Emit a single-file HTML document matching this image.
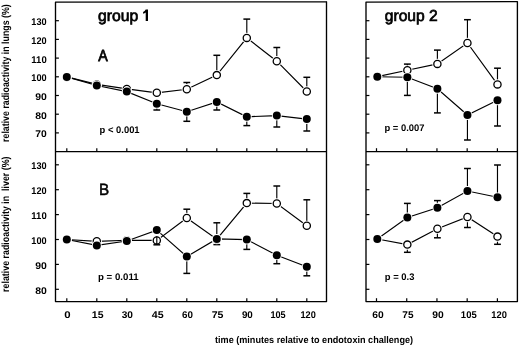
<!DOCTYPE html>
<html><head><meta charset="utf-8"><style>
html,body{margin:0;padding:0;background:#fff;}
svg{display:block;will-change:transform;}
text{font-family:"Liberation Sans",sans-serif;fill:#000;white-space:pre;text-rendering:geometricPrecision;}
</style></head><body>
<svg width="520" height="347" viewBox="0 0 520 347">
<rect width="520" height="347" fill="#fff"/>
<g stroke="#000" fill="none">
<path d="M55.5,2.15 L326.5,1.8 L326.5,301.6 L55.5,301.6 Z" fill="none" stroke-width="1.35" stroke-linejoin="round"/>
<line x1="55.50" y1="151.60" x2="326.50" y2="151.60" stroke-width="1.35"/>
<path d="M366.0,2.05 L517.4,1.6 L517.4,301.6 L366.0,301.6 Z" fill="none" stroke-width="1.35" stroke-linejoin="round"/>
<line x1="366.00" y1="151.60" x2="517.40" y2="151.60" stroke-width="1.35"/>
<line x1="55.50" y1="20.70" x2="58.90" y2="20.70" stroke-width="1.2"/>
<line x1="55.50" y1="39.40" x2="58.90" y2="39.40" stroke-width="1.2"/>
<line x1="55.50" y1="58.10" x2="58.90" y2="58.10" stroke-width="1.2"/>
<line x1="55.50" y1="76.80" x2="58.90" y2="76.80" stroke-width="1.2"/>
<line x1="55.50" y1="95.50" x2="58.90" y2="95.50" stroke-width="1.2"/>
<line x1="55.50" y1="114.20" x2="58.90" y2="114.20" stroke-width="1.2"/>
<line x1="55.50" y1="132.90" x2="58.90" y2="132.90" stroke-width="1.2"/>
<line x1="55.50" y1="164.80" x2="58.90" y2="164.80" stroke-width="1.2"/>
<line x1="55.50" y1="189.70" x2="58.90" y2="189.70" stroke-width="1.2"/>
<line x1="55.50" y1="214.60" x2="58.90" y2="214.60" stroke-width="1.2"/>
<line x1="55.50" y1="239.50" x2="58.90" y2="239.50" stroke-width="1.2"/>
<line x1="55.50" y1="264.40" x2="58.90" y2="264.40" stroke-width="1.2"/>
<line x1="55.50" y1="289.30" x2="58.90" y2="289.30" stroke-width="1.2"/>
<line x1="366.00" y1="20.70" x2="369.40" y2="20.70" stroke-width="1.2"/>
<line x1="366.00" y1="39.40" x2="369.40" y2="39.40" stroke-width="1.2"/>
<line x1="366.00" y1="58.10" x2="369.40" y2="58.10" stroke-width="1.2"/>
<line x1="366.00" y1="76.80" x2="369.40" y2="76.80" stroke-width="1.2"/>
<line x1="366.00" y1="95.50" x2="369.40" y2="95.50" stroke-width="1.2"/>
<line x1="366.00" y1="114.20" x2="369.40" y2="114.20" stroke-width="1.2"/>
<line x1="366.00" y1="132.90" x2="369.40" y2="132.90" stroke-width="1.2"/>
<line x1="366.00" y1="164.80" x2="369.40" y2="164.80" stroke-width="1.2"/>
<line x1="366.00" y1="189.70" x2="369.40" y2="189.70" stroke-width="1.2"/>
<line x1="366.00" y1="214.60" x2="369.40" y2="214.60" stroke-width="1.2"/>
<line x1="366.00" y1="239.50" x2="369.40" y2="239.50" stroke-width="1.2"/>
<line x1="366.00" y1="264.40" x2="369.40" y2="264.40" stroke-width="1.2"/>
<line x1="366.00" y1="289.30" x2="369.40" y2="289.30" stroke-width="1.2"/>
<line x1="66.80" y1="151.60" x2="66.80" y2="148.20" stroke-width="1.2"/>
<line x1="66.80" y1="301.60" x2="66.80" y2="298.20" stroke-width="1.2"/>
<line x1="96.80" y1="151.60" x2="96.80" y2="148.20" stroke-width="1.2"/>
<line x1="96.80" y1="301.60" x2="96.80" y2="298.20" stroke-width="1.2"/>
<line x1="126.80" y1="151.60" x2="126.80" y2="148.20" stroke-width="1.2"/>
<line x1="126.80" y1="301.60" x2="126.80" y2="298.20" stroke-width="1.2"/>
<line x1="156.80" y1="151.60" x2="156.80" y2="148.20" stroke-width="1.2"/>
<line x1="156.80" y1="301.60" x2="156.80" y2="298.20" stroke-width="1.2"/>
<line x1="186.80" y1="151.60" x2="186.80" y2="148.20" stroke-width="1.2"/>
<line x1="186.80" y1="301.60" x2="186.80" y2="298.20" stroke-width="1.2"/>
<line x1="216.80" y1="151.60" x2="216.80" y2="148.20" stroke-width="1.2"/>
<line x1="216.80" y1="301.60" x2="216.80" y2="298.20" stroke-width="1.2"/>
<line x1="246.80" y1="151.60" x2="246.80" y2="148.20" stroke-width="1.2"/>
<line x1="246.80" y1="301.60" x2="246.80" y2="298.20" stroke-width="1.2"/>
<line x1="276.80" y1="151.60" x2="276.80" y2="148.20" stroke-width="1.2"/>
<line x1="276.80" y1="301.60" x2="276.80" y2="298.20" stroke-width="1.2"/>
<line x1="306.80" y1="151.60" x2="306.80" y2="148.20" stroke-width="1.2"/>
<line x1="306.80" y1="301.60" x2="306.80" y2="298.20" stroke-width="1.2"/>
<line x1="376.50" y1="151.60" x2="376.50" y2="148.20" stroke-width="1.2"/>
<line x1="376.50" y1="301.60" x2="376.50" y2="298.20" stroke-width="1.2"/>
<line x1="406.73" y1="151.60" x2="406.73" y2="148.20" stroke-width="1.2"/>
<line x1="406.73" y1="301.60" x2="406.73" y2="298.20" stroke-width="1.2"/>
<line x1="436.95" y1="151.60" x2="436.95" y2="148.20" stroke-width="1.2"/>
<line x1="436.95" y1="301.60" x2="436.95" y2="298.20" stroke-width="1.2"/>
<line x1="467.18" y1="151.60" x2="467.18" y2="148.20" stroke-width="1.2"/>
<line x1="467.18" y1="301.60" x2="467.18" y2="298.20" stroke-width="1.2"/>
<line x1="497.40" y1="151.60" x2="497.40" y2="148.20" stroke-width="1.2"/>
<line x1="497.40" y1="301.60" x2="497.40" y2="298.20" stroke-width="1.2"/>
<polyline points="66.80,76.90 96.80,84.40 126.80,88.90 156.80,92.80 186.80,89.20 216.80,75.10 246.80,37.90 276.80,61.20 306.80,91.50" fill="none" stroke-width="1.15"/>
<line x1="186.80" y1="89.20" x2="186.80" y2="82.50" stroke-width="1.15"/>
<line x1="183.40" y1="82.50" x2="190.20" y2="82.50" stroke-width="1.5"/>
<line x1="216.80" y1="75.10" x2="216.80" y2="55.30" stroke-width="1.15"/>
<line x1="213.40" y1="55.30" x2="220.20" y2="55.30" stroke-width="1.5"/>
<line x1="246.80" y1="37.90" x2="246.80" y2="19.10" stroke-width="1.15"/>
<line x1="243.40" y1="19.10" x2="250.20" y2="19.10" stroke-width="1.5"/>
<line x1="276.80" y1="61.20" x2="276.80" y2="47.50" stroke-width="1.15"/>
<line x1="273.40" y1="47.50" x2="280.20" y2="47.50" stroke-width="1.5"/>
<line x1="306.80" y1="91.50" x2="306.80" y2="77.30" stroke-width="1.15"/>
<line x1="303.40" y1="77.30" x2="310.20" y2="77.30" stroke-width="1.5"/>
<polyline points="66.80,76.90 96.80,85.50 126.80,91.60 156.80,103.80 186.80,111.70 216.80,101.90 246.80,116.80 276.80,115.60 306.80,119.10" fill="none" stroke-width="1.15"/>
<line x1="156.80" y1="103.80" x2="156.80" y2="110.00" stroke-width="1.15"/>
<line x1="153.40" y1="110.00" x2="160.20" y2="110.00" stroke-width="1.5"/>
<line x1="186.80" y1="111.70" x2="186.80" y2="121.30" stroke-width="1.15"/>
<line x1="183.40" y1="121.30" x2="190.20" y2="121.30" stroke-width="1.5"/>
<line x1="216.80" y1="101.90" x2="216.80" y2="110.00" stroke-width="1.15"/>
<line x1="213.40" y1="110.00" x2="220.20" y2="110.00" stroke-width="1.5"/>
<line x1="246.80" y1="116.80" x2="246.80" y2="125.60" stroke-width="1.15"/>
<line x1="243.40" y1="125.60" x2="250.20" y2="125.60" stroke-width="1.5"/>
<line x1="276.80" y1="115.60" x2="276.80" y2="127.00" stroke-width="1.15"/>
<line x1="273.40" y1="127.00" x2="280.20" y2="127.00" stroke-width="1.5"/>
<line x1="306.80" y1="119.10" x2="306.80" y2="131.00" stroke-width="1.15"/>
<line x1="303.40" y1="131.00" x2="310.20" y2="131.00" stroke-width="1.5"/>
<circle cx="66.80" cy="76.90" r="5.15" fill="#fff" stroke="none"/>
<circle cx="66.80" cy="76.90" r="3.6" fill="#fff" stroke-width="1.3"/>
<circle cx="96.80" cy="84.40" r="5.15" fill="#fff" stroke="none"/>
<circle cx="96.80" cy="84.40" r="3.6" fill="#fff" stroke-width="1.3"/>
<circle cx="126.80" cy="88.90" r="5.15" fill="#fff" stroke="none"/>
<circle cx="126.80" cy="88.90" r="3.6" fill="#fff" stroke-width="1.3"/>
<circle cx="156.80" cy="92.80" r="5.15" fill="#fff" stroke="none"/>
<circle cx="156.80" cy="92.80" r="3.6" fill="#fff" stroke-width="1.3"/>
<circle cx="186.80" cy="89.20" r="5.15" fill="#fff" stroke="none"/>
<circle cx="186.80" cy="89.20" r="3.6" fill="#fff" stroke-width="1.3"/>
<circle cx="216.80" cy="75.10" r="5.15" fill="#fff" stroke="none"/>
<circle cx="216.80" cy="75.10" r="3.6" fill="#fff" stroke-width="1.3"/>
<circle cx="246.80" cy="37.90" r="5.15" fill="#fff" stroke="none"/>
<circle cx="246.80" cy="37.90" r="3.6" fill="#fff" stroke-width="1.3"/>
<circle cx="276.80" cy="61.20" r="5.15" fill="#fff" stroke="none"/>
<circle cx="276.80" cy="61.20" r="3.6" fill="#fff" stroke-width="1.3"/>
<circle cx="306.80" cy="91.50" r="5.15" fill="#fff" stroke="none"/>
<circle cx="306.80" cy="91.50" r="3.6" fill="#fff" stroke-width="1.3"/>
<circle cx="66.80" cy="76.90" r="4.9" fill="#fff" stroke="none"/>
<circle cx="66.80" cy="76.90" r="4.0" fill="#000" stroke="none"/>
<circle cx="96.80" cy="85.50" r="4.9" fill="#fff" stroke="none"/>
<circle cx="96.80" cy="85.50" r="4.0" fill="#000" stroke="none"/>
<circle cx="126.80" cy="91.60" r="4.9" fill="#fff" stroke="none"/>
<circle cx="126.80" cy="91.60" r="4.0" fill="#000" stroke="none"/>
<circle cx="156.80" cy="103.80" r="4.9" fill="#fff" stroke="none"/>
<circle cx="156.80" cy="103.80" r="4.0" fill="#000" stroke="none"/>
<circle cx="186.80" cy="111.70" r="4.9" fill="#fff" stroke="none"/>
<circle cx="186.80" cy="111.70" r="4.0" fill="#000" stroke="none"/>
<circle cx="216.80" cy="101.90" r="4.9" fill="#fff" stroke="none"/>
<circle cx="216.80" cy="101.90" r="4.0" fill="#000" stroke="none"/>
<circle cx="246.80" cy="116.80" r="4.9" fill="#fff" stroke="none"/>
<circle cx="246.80" cy="116.80" r="4.0" fill="#000" stroke="none"/>
<circle cx="276.80" cy="115.60" r="4.9" fill="#fff" stroke="none"/>
<circle cx="276.80" cy="115.60" r="4.0" fill="#000" stroke="none"/>
<circle cx="306.80" cy="119.10" r="4.9" fill="#fff" stroke="none"/>
<circle cx="306.80" cy="119.10" r="4.0" fill="#000" stroke="none"/>
<polyline points="66.80,239.50 96.80,241.30 126.80,240.30 156.80,240.40 186.80,218.00 216.80,239.20 246.80,203.10 276.80,203.50 306.80,225.80" fill="none" stroke-width="1.15"/>
<line x1="186.80" y1="218.00" x2="186.80" y2="209.20" stroke-width="1.15"/>
<line x1="183.40" y1="209.20" x2="190.20" y2="209.20" stroke-width="1.5"/>
<line x1="216.80" y1="239.20" x2="216.80" y2="222.80" stroke-width="1.15"/>
<line x1="213.40" y1="222.80" x2="220.20" y2="222.80" stroke-width="1.5"/>
<line x1="246.80" y1="203.10" x2="246.80" y2="193.40" stroke-width="1.15"/>
<line x1="243.40" y1="193.40" x2="250.20" y2="193.40" stroke-width="1.5"/>
<line x1="276.80" y1="203.50" x2="276.80" y2="186.00" stroke-width="1.15"/>
<line x1="273.40" y1="186.00" x2="280.20" y2="186.00" stroke-width="1.5"/>
<line x1="306.80" y1="225.80" x2="306.80" y2="199.80" stroke-width="1.15"/>
<line x1="303.40" y1="199.80" x2="310.20" y2="199.80" stroke-width="1.5"/>
<polyline points="66.80,239.50 96.80,245.40 126.80,241.00 156.80,230.10 186.80,256.60 216.80,238.90 246.80,239.60 276.80,255.20 306.80,266.80" fill="none" stroke-width="1.15"/>
<line x1="186.80" y1="256.60" x2="186.80" y2="273.40" stroke-width="1.15"/>
<line x1="183.40" y1="273.40" x2="190.20" y2="273.40" stroke-width="1.5"/>
<line x1="216.80" y1="238.90" x2="216.80" y2="244.60" stroke-width="1.15"/>
<line x1="213.40" y1="244.60" x2="220.20" y2="244.60" stroke-width="1.5"/>
<line x1="246.80" y1="239.60" x2="246.80" y2="249.40" stroke-width="1.15"/>
<line x1="243.40" y1="249.40" x2="250.20" y2="249.40" stroke-width="1.5"/>
<line x1="276.80" y1="255.20" x2="276.80" y2="263.70" stroke-width="1.15"/>
<line x1="273.40" y1="263.70" x2="280.20" y2="263.70" stroke-width="1.5"/>
<line x1="306.80" y1="266.80" x2="306.80" y2="275.80" stroke-width="1.15"/>
<line x1="303.40" y1="275.80" x2="310.20" y2="275.80" stroke-width="1.5"/>
<circle cx="66.80" cy="239.50" r="5.15" fill="#fff" stroke="none"/>
<circle cx="66.80" cy="239.50" r="3.6" fill="#fff" stroke-width="1.3"/>
<circle cx="96.80" cy="241.30" r="5.15" fill="#fff" stroke="none"/>
<circle cx="96.80" cy="241.30" r="3.6" fill="#fff" stroke-width="1.3"/>
<circle cx="126.80" cy="240.30" r="5.15" fill="#fff" stroke="none"/>
<circle cx="126.80" cy="240.30" r="3.6" fill="#fff" stroke-width="1.3"/>
<circle cx="156.80" cy="240.40" r="5.15" fill="#fff" stroke="none"/>
<circle cx="156.80" cy="240.40" r="3.6" fill="#fff" stroke-width="1.3"/>
<circle cx="186.80" cy="218.00" r="5.15" fill="#fff" stroke="none"/>
<circle cx="186.80" cy="218.00" r="3.6" fill="#fff" stroke-width="1.3"/>
<circle cx="216.80" cy="239.20" r="5.15" fill="#fff" stroke="none"/>
<circle cx="216.80" cy="239.20" r="3.6" fill="#fff" stroke-width="1.3"/>
<circle cx="246.80" cy="203.10" r="5.15" fill="#fff" stroke="none"/>
<circle cx="246.80" cy="203.10" r="3.6" fill="#fff" stroke-width="1.3"/>
<circle cx="276.80" cy="203.50" r="5.15" fill="#fff" stroke="none"/>
<circle cx="276.80" cy="203.50" r="3.6" fill="#fff" stroke-width="1.3"/>
<circle cx="306.80" cy="225.80" r="5.15" fill="#fff" stroke="none"/>
<circle cx="306.80" cy="225.80" r="3.6" fill="#fff" stroke-width="1.3"/>
<circle cx="66.80" cy="239.50" r="4.9" fill="#fff" stroke="none"/>
<circle cx="66.80" cy="239.50" r="4.0" fill="#000" stroke="none"/>
<circle cx="96.80" cy="245.40" r="4.9" fill="#fff" stroke="none"/>
<circle cx="96.80" cy="245.40" r="4.0" fill="#000" stroke="none"/>
<circle cx="126.80" cy="241.00" r="4.9" fill="#fff" stroke="none"/>
<circle cx="126.80" cy="241.00" r="4.0" fill="#000" stroke="none"/>
<circle cx="156.80" cy="230.10" r="4.9" fill="#fff" stroke="none"/>
<circle cx="156.80" cy="230.10" r="4.0" fill="#000" stroke="none"/>
<circle cx="186.80" cy="256.60" r="4.9" fill="#fff" stroke="none"/>
<circle cx="186.80" cy="256.60" r="4.0" fill="#000" stroke="none"/>
<circle cx="216.80" cy="238.90" r="4.9" fill="#fff" stroke="none"/>
<circle cx="216.80" cy="238.90" r="4.0" fill="#000" stroke="none"/>
<circle cx="246.80" cy="239.60" r="4.9" fill="#fff" stroke="none"/>
<circle cx="246.80" cy="239.60" r="4.0" fill="#000" stroke="none"/>
<circle cx="276.80" cy="255.20" r="4.9" fill="#fff" stroke="none"/>
<circle cx="276.80" cy="255.20" r="4.0" fill="#000" stroke="none"/>
<circle cx="306.80" cy="266.80" r="4.9" fill="#fff" stroke="none"/>
<circle cx="306.80" cy="266.80" r="4.0" fill="#000" stroke="none"/>
<polyline points="377.30,76.60 407.35,70.30 437.39,63.90 467.44,43.00 497.48,84.40" fill="none" stroke-width="1.15"/>
<line x1="407.35" y1="70.30" x2="407.35" y2="64.10" stroke-width="1.15"/>
<line x1="403.95" y1="64.10" x2="410.75" y2="64.10" stroke-width="1.5"/>
<line x1="437.39" y1="63.90" x2="437.39" y2="50.10" stroke-width="1.15"/>
<line x1="433.99" y1="50.10" x2="440.79" y2="50.10" stroke-width="1.5"/>
<line x1="467.44" y1="43.00" x2="467.44" y2="19.70" stroke-width="1.15"/>
<line x1="464.04" y1="19.70" x2="470.83" y2="19.70" stroke-width="1.5"/>
<line x1="497.48" y1="84.40" x2="497.48" y2="68.20" stroke-width="1.15"/>
<line x1="494.08" y1="68.20" x2="500.88" y2="68.20" stroke-width="1.5"/>
<polyline points="377.30,76.70 407.35,77.20 437.39,88.80 467.44,115.00 497.48,100.30" fill="none" stroke-width="1.15"/>
<line x1="407.35" y1="77.20" x2="407.35" y2="95.40" stroke-width="1.15"/>
<line x1="403.95" y1="95.40" x2="410.75" y2="95.40" stroke-width="1.5"/>
<line x1="437.39" y1="88.80" x2="437.39" y2="112.90" stroke-width="1.15"/>
<line x1="433.99" y1="112.90" x2="440.79" y2="112.90" stroke-width="1.5"/>
<line x1="467.44" y1="115.00" x2="467.44" y2="140.00" stroke-width="1.15"/>
<line x1="464.04" y1="140.00" x2="470.83" y2="140.00" stroke-width="1.5"/>
<line x1="497.48" y1="100.30" x2="497.48" y2="126.00" stroke-width="1.15"/>
<line x1="494.08" y1="126.00" x2="500.88" y2="126.00" stroke-width="1.5"/>
<circle cx="377.30" cy="76.60" r="5.15" fill="#fff" stroke="none"/>
<circle cx="377.30" cy="76.60" r="3.6" fill="#fff" stroke-width="1.3"/>
<circle cx="407.35" cy="70.30" r="5.15" fill="#fff" stroke="none"/>
<circle cx="407.35" cy="70.30" r="3.6" fill="#fff" stroke-width="1.3"/>
<circle cx="437.39" cy="63.90" r="5.15" fill="#fff" stroke="none"/>
<circle cx="437.39" cy="63.90" r="3.6" fill="#fff" stroke-width="1.3"/>
<circle cx="467.44" cy="43.00" r="5.15" fill="#fff" stroke="none"/>
<circle cx="467.44" cy="43.00" r="3.6" fill="#fff" stroke-width="1.3"/>
<circle cx="497.48" cy="84.40" r="5.15" fill="#fff" stroke="none"/>
<circle cx="497.48" cy="84.40" r="3.6" fill="#fff" stroke-width="1.3"/>
<circle cx="377.30" cy="76.70" r="4.9" fill="#fff" stroke="none"/>
<circle cx="377.30" cy="76.70" r="4.0" fill="#000" stroke="none"/>
<circle cx="407.35" cy="77.20" r="4.9" fill="#fff" stroke="none"/>
<circle cx="407.35" cy="77.20" r="4.0" fill="#000" stroke="none"/>
<circle cx="437.39" cy="88.80" r="4.9" fill="#fff" stroke="none"/>
<circle cx="437.39" cy="88.80" r="4.0" fill="#000" stroke="none"/>
<circle cx="467.44" cy="115.00" r="4.9" fill="#fff" stroke="none"/>
<circle cx="467.44" cy="115.00" r="4.0" fill="#000" stroke="none"/>
<circle cx="497.48" cy="100.30" r="4.9" fill="#fff" stroke="none"/>
<circle cx="497.48" cy="100.30" r="4.0" fill="#000" stroke="none"/>
<polyline points="377.30,239.00 407.35,244.60 437.39,228.70 467.44,217.00 497.48,236.60" fill="none" stroke-width="1.15"/>
<line x1="407.35" y1="244.60" x2="407.35" y2="252.30" stroke-width="1.15"/>
<line x1="403.95" y1="252.30" x2="410.75" y2="252.30" stroke-width="1.5"/>
<line x1="437.39" y1="228.70" x2="437.39" y2="237.80" stroke-width="1.15"/>
<line x1="433.99" y1="237.80" x2="440.79" y2="237.80" stroke-width="1.5"/>
<line x1="467.44" y1="217.00" x2="467.44" y2="227.50" stroke-width="1.15"/>
<line x1="464.04" y1="227.50" x2="470.83" y2="227.50" stroke-width="1.5"/>
<line x1="497.48" y1="236.60" x2="497.48" y2="244.30" stroke-width="1.15"/>
<line x1="494.08" y1="244.30" x2="500.88" y2="244.30" stroke-width="1.5"/>
<polyline points="377.30,239.00 407.35,217.50 437.39,207.70 467.44,191.00 497.48,197.30" fill="none" stroke-width="1.15"/>
<line x1="407.35" y1="217.50" x2="407.35" y2="203.40" stroke-width="1.15"/>
<line x1="403.95" y1="203.40" x2="410.75" y2="203.40" stroke-width="1.5"/>
<line x1="437.39" y1="207.70" x2="437.39" y2="200.60" stroke-width="1.15"/>
<line x1="433.99" y1="200.60" x2="440.79" y2="200.60" stroke-width="1.5"/>
<line x1="467.44" y1="191.00" x2="467.44" y2="168.50" stroke-width="1.15"/>
<line x1="464.04" y1="168.50" x2="470.83" y2="168.50" stroke-width="1.5"/>
<line x1="497.48" y1="197.30" x2="497.48" y2="165.00" stroke-width="1.15"/>
<line x1="494.08" y1="165.00" x2="500.88" y2="165.00" stroke-width="1.5"/>
<circle cx="377.30" cy="239.00" r="5.15" fill="#fff" stroke="none"/>
<circle cx="377.30" cy="239.00" r="3.6" fill="#fff" stroke-width="1.3"/>
<circle cx="407.35" cy="244.60" r="5.15" fill="#fff" stroke="none"/>
<circle cx="407.35" cy="244.60" r="3.6" fill="#fff" stroke-width="1.3"/>
<circle cx="437.39" cy="228.70" r="5.15" fill="#fff" stroke="none"/>
<circle cx="437.39" cy="228.70" r="3.6" fill="#fff" stroke-width="1.3"/>
<circle cx="467.44" cy="217.00" r="5.15" fill="#fff" stroke="none"/>
<circle cx="467.44" cy="217.00" r="3.6" fill="#fff" stroke-width="1.3"/>
<circle cx="497.48" cy="236.60" r="5.15" fill="#fff" stroke="none"/>
<circle cx="497.48" cy="236.60" r="3.6" fill="#fff" stroke-width="1.3"/>
<circle cx="377.30" cy="239.00" r="4.9" fill="#fff" stroke="none"/>
<circle cx="377.30" cy="239.00" r="4.0" fill="#000" stroke="none"/>
<circle cx="407.35" cy="217.50" r="4.9" fill="#fff" stroke="none"/>
<circle cx="407.35" cy="217.50" r="4.0" fill="#000" stroke="none"/>
<circle cx="437.39" cy="207.70" r="4.9" fill="#fff" stroke="none"/>
<circle cx="437.39" cy="207.70" r="4.0" fill="#000" stroke="none"/>
<circle cx="467.44" cy="191.00" r="4.9" fill="#fff" stroke="none"/>
<circle cx="467.44" cy="191.00" r="4.0" fill="#000" stroke="none"/>
<circle cx="497.48" cy="197.30" r="4.9" fill="#fff" stroke="none"/>
<circle cx="497.48" cy="197.30" r="4.0" fill="#000" stroke="none"/>
<line x1="156.80" y1="236.20" x2="156.80" y2="244.80" stroke-width="1.15"/>
<line x1="153.40" y1="244.80" x2="160.20" y2="244.80" stroke-width="1.5"/>
</g>
<g>
<text x="31.35" y="25.20" font-size="9.7" font-weight="bold" text-anchor="start" textLength="15.31" lengthAdjust="spacingAndGlyphs">130</text>
<text x="31.35" y="43.90" font-size="9.7" font-weight="bold" text-anchor="start" textLength="15.31" lengthAdjust="spacingAndGlyphs">120</text>
<text x="31.36" y="62.60" font-size="9.7" font-weight="bold" text-anchor="start" textLength="15.36" lengthAdjust="spacingAndGlyphs">110</text>
<text x="31.35" y="81.30" font-size="9.7" font-weight="bold" text-anchor="start" textLength="15.31" lengthAdjust="spacingAndGlyphs">100</text>
<text x="35.17" y="100.00" font-size="9.7" font-weight="bold" text-anchor="start" textLength="11.61" lengthAdjust="spacingAndGlyphs">90</text>
<text x="35.17" y="118.70" font-size="9.7" font-weight="bold" text-anchor="start" textLength="11.60" lengthAdjust="spacingAndGlyphs">80</text>
<text x="35.24" y="137.40" font-size="9.7" font-weight="bold" text-anchor="start" textLength="11.45" lengthAdjust="spacingAndGlyphs">70</text>
<text x="31.35" y="169.30" font-size="9.7" font-weight="bold" text-anchor="start" textLength="15.31" lengthAdjust="spacingAndGlyphs">130</text>
<text x="31.35" y="194.20" font-size="9.7" font-weight="bold" text-anchor="start" textLength="15.31" lengthAdjust="spacingAndGlyphs">120</text>
<text x="31.36" y="219.10" font-size="9.7" font-weight="bold" text-anchor="start" textLength="15.36" lengthAdjust="spacingAndGlyphs">110</text>
<text x="31.35" y="244.00" font-size="9.7" font-weight="bold" text-anchor="start" textLength="15.31" lengthAdjust="spacingAndGlyphs">100</text>
<text x="35.17" y="268.90" font-size="9.7" font-weight="bold" text-anchor="start" textLength="11.61" lengthAdjust="spacingAndGlyphs">90</text>
<text x="35.17" y="293.80" font-size="9.7" font-weight="bold" text-anchor="start" textLength="11.60" lengthAdjust="spacingAndGlyphs">80</text>
<text x="64.22" y="317.70" font-size="9.7" font-weight="bold" text-anchor="start" textLength="6.35" lengthAdjust="spacingAndGlyphs">0</text>
<text x="91.88" y="317.70" font-size="9.7" font-weight="bold" text-anchor="start" textLength="11.67" lengthAdjust="spacingAndGlyphs">15</text>
<text x="121.73" y="317.70" font-size="9.7" font-weight="bold" text-anchor="start" textLength="11.30" lengthAdjust="spacingAndGlyphs">30</text>
<text x="151.79" y="317.70" font-size="9.7" font-weight="bold" text-anchor="start" textLength="11.87" lengthAdjust="spacingAndGlyphs">45</text>
<text x="182.07" y="317.70" font-size="9.7" font-weight="bold" text-anchor="start" textLength="10.93" lengthAdjust="spacingAndGlyphs">60</text>
<text x="211.67" y="317.70" font-size="9.7" font-weight="bold" text-anchor="start" textLength="11.79" lengthAdjust="spacingAndGlyphs">75</text>
<text x="241.90" y="317.70" font-size="9.7" font-weight="bold" text-anchor="start" textLength="10.95" lengthAdjust="spacingAndGlyphs">90</text>
<text x="270.42" y="317.70" font-size="9.7" font-weight="bold" text-anchor="start" textLength="15.22" lengthAdjust="spacingAndGlyphs">105</text>
<text x="300.46" y="317.70" font-size="9.7" font-weight="bold" text-anchor="start" textLength="15.31" lengthAdjust="spacingAndGlyphs">120</text>
<text x="372.35" y="317.70" font-size="9.7" font-weight="bold" text-anchor="start" textLength="11.44" lengthAdjust="spacingAndGlyphs">60</text>
<text x="402.35" y="317.70" font-size="9.7" font-weight="bold" text-anchor="start" textLength="11.18" lengthAdjust="spacingAndGlyphs">75</text>
<text x="432.34" y="317.70" font-size="9.7" font-weight="bold" text-anchor="start" textLength="11.45" lengthAdjust="spacingAndGlyphs">90</text>
<text x="460.87" y="317.70" font-size="9.7" font-weight="bold" text-anchor="start" textLength="15.82" lengthAdjust="spacingAndGlyphs">105</text>
<text x="491.34" y="317.70" font-size="9.7" font-weight="bold" text-anchor="start" textLength="15.60" lengthAdjust="spacingAndGlyphs">120</text>
<text x="98.01" y="21.00" font-size="15.8" font-weight="normal" text-anchor="start" textLength="40.23" lengthAdjust="spacingAndGlyphs" stroke="#000" stroke-width="0.7">group</text>
<text x="384.76" y="20.80" font-size="15.8" font-weight="normal" text-anchor="start" textLength="52.95" lengthAdjust="spacingAndGlyphs" stroke="#000" stroke-width="0.7">group 2</text>
<text x="98.19" y="61.10" font-size="16.0" font-weight="normal" text-anchor="start" textLength="9.49" lengthAdjust="spacingAndGlyphs" stroke="#000" stroke-width="0.75">A</text>
<text x="99.00" y="194.60" font-size="16.3" font-weight="normal" text-anchor="start" textLength="10.18" lengthAdjust="spacingAndGlyphs" stroke="#000" stroke-width="0.5">B</text>
<text x="99.59" y="133.30" font-size="9.5" font-weight="bold" text-anchor="start" textLength="40.02" lengthAdjust="spacingAndGlyphs">p &lt; 0.001</text>
<text x="98.00" y="280.00" font-size="9.5" font-weight="bold" text-anchor="start" textLength="40.63" lengthAdjust="spacingAndGlyphs">p = 0.011</text>
<text x="384.48" y="130.60" font-size="9.5" font-weight="bold" text-anchor="start" textLength="40.03" lengthAdjust="spacingAndGlyphs">p = 0.007</text>
<text x="384.82" y="279.50" font-size="9.5" font-weight="bold" text-anchor="start" textLength="29.68" lengthAdjust="spacingAndGlyphs">p = 0.3</text>
<text x="215.01" y="342.70" font-size="9.6" font-weight="bold" text-anchor="start" textLength="198.05" lengthAdjust="spacingAndGlyphs">time (minutes relative to endotoxin challenge)</text>
<text transform="translate(9.00,141.96) rotate(-90)" font-size="10.3" font-weight="bold" textLength="137.71" lengthAdjust="spacingAndGlyphs">relative radioactivity in lungs (%)</text>
<text transform="translate(9.00,291.96) rotate(-90)" font-size="10.3" font-weight="bold" textLength="135.47" lengthAdjust="spacingAndGlyphs">relative radioactivity in  liver (%)</text>
<path d="M145.7,9.5 L148.0,9.5 L148.0,21.0 L145.7,21.0 L145.7,12.5 Q144.7,13.5 143.1,13.7 L143.1,11.9 Q144.9,11.5 145.7,9.5 Z" fill="#000"/>
</g>
</svg>
</body></html>
